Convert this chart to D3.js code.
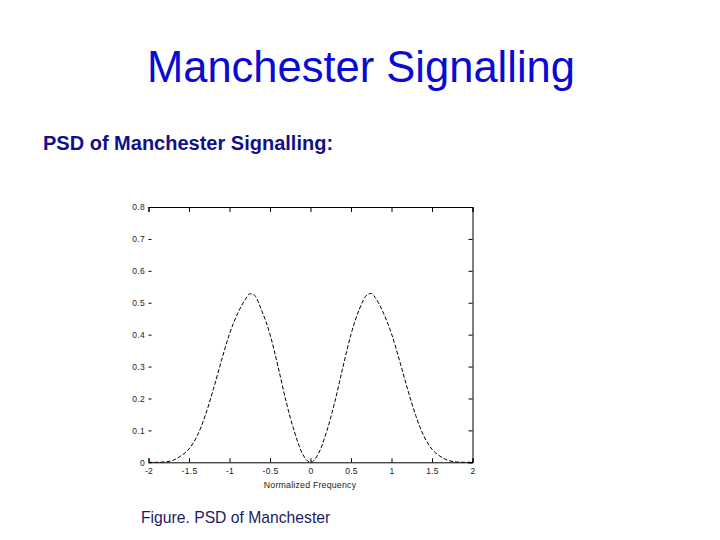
<!DOCTYPE html>
<html>
<head>
<meta charset="utf-8">
<script src="https://cdn.jsdelivr.net/npm/d3@7"></script>
<style>
  html, body { margin: 0; padding: 0; background: #fff; }
  svg { display: block; }
  .tick text { font-family: "Liberation Sans", Arial, sans-serif; font-size: 8.5px; letter-spacing: 0.3px; fill: #222; }
</style>
</head>
<body>
<svg id="chart" width="720" height="540"></svg>
<script>
// Values
const freq = [-2.0, -1.9, -1.8, -1.7, -1.6, -1.5, -1.4, -1.3, -1.2, -1.1, -1.0, -0.9, -0.8, -0.75, -0.7,
              -0.6, -0.5, -0.4, -0.3, -0.2, -0.1, 0.0, 0.1, 0.2, 0.3, 0.4, 0.5, 0.6, 0.7, 0.75, 0.8,
              0.9, 1.0, 1.1, 1.2, 1.3, 1.4, 1.5, 1.6, 1.7, 1.8, 1.9, 2.0];
const psd = [0.000, 0.000, 0.001, 0.006, 0.020, 0.042, 0.082, 0.146, 0.228, 0.318, 0.402, 0.466, 0.512, 0.528, 0.525,
             0.474, 0.401, 0.299, 0.189, 0.097, 0.027, 0.000, 0.028, 0.097, 0.189, 0.298, 0.401, 0.478, 0.525, 0.529, 0.516,
             0.468, 0.403, 0.318, 0.228, 0.146, 0.082, 0.041, 0.019, 0.006, 0.001, 0.000, 0.000];
const xTicks = [-2, -1.5, -1, -0.5, 0, 0.5, 1, 1.5, 2];
const yTicks = [0, 0.1, 0.2, 0.3, 0.4, 0.5, 0.6, 0.7, 0.8];

const svg = d3.select("#chart");

// --- slide texts ---
svg.append("text")
    .attr("x", 361).attr("y", 82)
    .attr("text-anchor", "middle")
    .style("font-family", "'Liberation Sans', Arial, sans-serif")
    .style("font-size", "43.5px")
    .attr("fill", "#0a0ad2")
    .text("Manchester Signalling");

svg.append("text")
    .attr("x", 43).attr("y", 150)
    .style("font-family", "'Liberation Sans', Arial, sans-serif")
    .style("font-size", "20px")
    .style("font-weight", "bold")
    .attr("fill", "#10108c")
    .text("PSD of Manchester Signalling:");

svg.append("text")
    .attr("x", 141).attr("y", 523)
    .style("font-family", "'Liberation Sans', Arial, sans-serif")
    .style("font-size", "15.7px")
    .attr("fill", "#1c1c5e")
    .text("Figure. PSD of Manchester");

// --- plot ---
const x = d3.scaleLinear().domain([-2, 2]).range([148.5, 472.5]);
const y = d3.scaleLinear().domain([0, 0.8]).range([462.3, 207]);
const plain = d => String(d); // hyphen-minus like the original figure

const g = svg.append("g");

// bottom axis with labels, ticks pointing inward
g.append("g")
    .attr("transform", `translate(0,${y(0)})`)
    .call(d3.axisBottom(x).tickValues(xTicks).tickFormat(plain).tickSize(-4).tickPadding(6));

// top axis, ticks only
g.append("g")
    .attr("transform", `translate(0,${y(0.8)})`)
    .call(d3.axisTop(x).tickValues(xTicks).tickFormat("").tickSize(-5));

// left axis, labels and short ticks, no line (it is lost in the reference)
const left = g.append("g")
    .attr("transform", `translate(${x(-2)},0)`)
    .call(d3.axisLeft(y).tickValues(yTicks).tickFormat(plain).tickSize(-3).tickPadding(3.5));
left.select(".domain").remove();

// right axis, ticks only
g.append("g")
    .attr("transform", `translate(${x(2)},0)`)
    .call(d3.axisRight(y).tickValues(yTicks).tickFormat("").tickSize(-4));

g.selectAll(".domain, .tick line").attr("stroke", "#000").attr("stroke-width", 1);

// axis title
svg.append("text")
    .attr("x", 310).attr("y", 487.5)
    .attr("text-anchor", "middle")
    .style("font-family", "'Liberation Sans', Arial, sans-serif")
    .style("font-size", "8.8px")
    .style("letter-spacing", "0.2px")
    .attr("fill", "#222")
    .text("Normalized Frequency");

// PSD curve
const line = d3.line()
    .x((d, i) => x(freq[i]))
    .y(d => y(d))
    .curve(d3.curveMonotoneX);

svg.append("path")
    .datum(psd)
    .attr("d", line)
    .attr("fill", "none")
    .attr("stroke", "#000")
    .attr("stroke-width", 1)
    .attr("stroke-dasharray", "4,2");
</script>
</body>
</html>
